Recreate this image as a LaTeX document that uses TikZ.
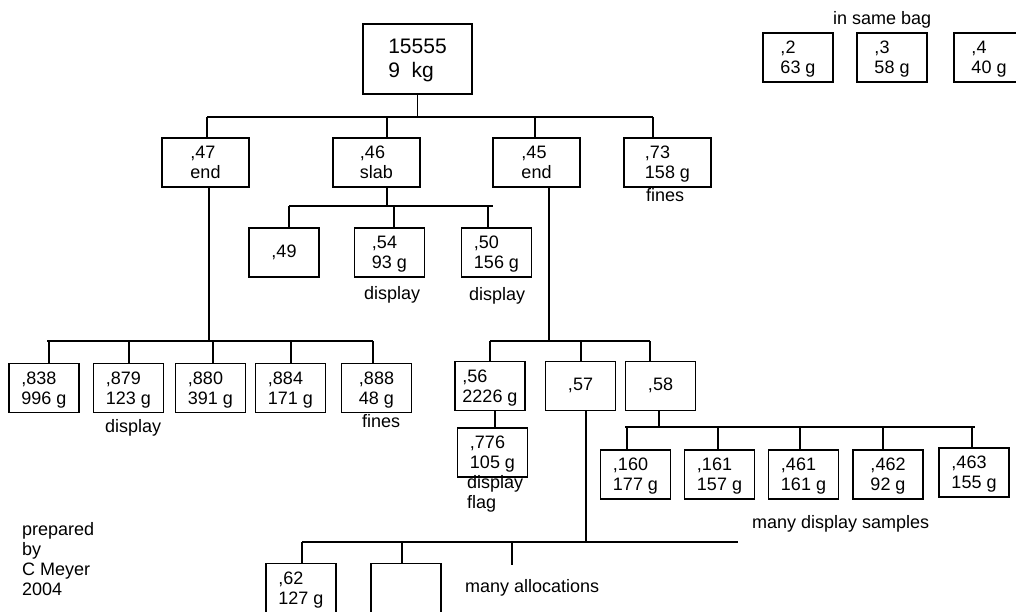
\documentclass[tikz,border=0pt]{standalone}
\usepackage{fontspec}
\setmainfont{Liberation Sans}
\usetikzlibrary{positioning}

\begin{document}
\begin{tikzpicture}[x=1pt,y=-1pt,
  box/.style={draw,line width=1.1pt,minimum width=70pt,minimum height=49pt,align=left,inner sep=1pt,text depth=-5pt,font=\fontsize{18}{20}\selectfont},
  single/.style={box,text depth=3pt},
  wide/.style={box,minimum width=87pt},
  note/.style={anchor=base west,inner sep=0pt,align=left,font=\fontsize{18}{20}\selectfont},
  wire/.style={line width=1.1pt}
]
\useasboundingbox (0,0) rectangle (1016,612);
% top of the tree
\node[box,minimum width=109pt,minimum height=70pt,text depth=1pt,font=\fontsize{21}{24}\selectfont] (root) at (417.5,59) {15555\\9\ \ kg};
\node[wide] (b47) at (205.5,162.5) {,47\\end};
\node[wide] (b46) at (376.5,162.5) {,46\\slab};
\node[wide] (b45) at (536.5,162.5) {,45\\end};
\node[wide] (b73) at (667.5,162.5) {,73\\158 g};
\node[note] (f73) at (646,202) {fines};
% pieces of ,46
\node[single] (b49) at (284,252.5) {,49};
\node[box] (b54) at (389.5,252.5) {,54\\93 g};
\node[box] (b50) at (496.5,252.5) {,50\\156 g};
\node[note] (d54) at (364,299) {display};
\node[note] (d50) at (469,300) {display};
% pieces of ,47
\node[box] (b838) at (44,388) {,838\\996 g};
\node[box] (b879) at (128.5,388) {,879\\123 g};
\node[box] (b880) at (210.5,388) {,880\\391 g};
\node[box] (b884) at (290.5,388) {,884\\171 g};
\node[box] (b888) at (376.5,388) {,888\\48 g};
\node[note] (d879) at (105,432) {display};
\node[note] (f888) at (362,427) {fines};
% pieces of ,45
\node[box] (b56) at (490,386) {,56\\2226 g};
\node[single] (b57) at (580.5,386) {,57};
\node[single] (b58) at (660.5,386) {,58};
\node[box] (b776) at (492.5,452.5) {,776\\105 g};
\node[note] (d776) at (467,508) {display\\flag};
% pieces of ,58
\node[box] (b160) at (635.5,474.5) {,160\\177 g};
\node[box] (b161) at (719.5,474.5) {,161\\157 g};
\node[box] (b461) at (803.5,474.5) {,461\\161 g};
\node[box] (b462) at (888,474.5) {,462\\92 g};
\node[box] (b463) at (974,472.5) {,463\\155 g};
\node[note] (samples) at (752,528) {many display samples};
% pieces of ,57
\node[box] (b62) at (301,588) {,62\\127 g};
\node[box] (bnone) at (406,588) {};
\node[note] (alloc) at (465,592) {many allocations};
% same bag
\node[note] (bag) at (833,25) {in same bag};
\node[box] (b2) at (798,57.5) {,2\\63 g};
\node[box] (b3) at (892,57.5) {,3\\58 g};
\node[box] (b4) at (989,57.5) {,4\\40 g};
\node[note] (author) at (22,595) {prepared\\by\\C Meyer\\2004};

% junctions on the bars
\coordinate (r1) at (207,117); \coordinate (r2) at (387,117);
\coordinate (r3) at (535,117); \coordinate (r4) at (653,117);
\coordinate (s1) at (289,206); \coordinate (s2) at (394,206);
\coordinate (s3) at (488,206); \coordinate (s4) at (493,206);
\coordinate (p0) at (209,341); \coordinate (p1) at (47,341);
\coordinate (q0) at (549,341); \coordinate (q1) at (490,341);
\coordinate (q2) at (581,341); \coordinate (q3) at (650,341);
\coordinate (m0) at (495,410);
\coordinate (u0) at (659,427); \coordinate (u1) at (625,427); \coordinate (u2) at (975,427);
\coordinate (v0) at (586,542); \coordinate (v1) at (302,542);
\coordinate (v2) at (402,542); \coordinate (v3) at (512,542); \coordinate (v4) at (738,542);
\coordinate (vend) at (512,565);

\draw[wire] (root) -- (root |- r1);
\draw[wire] (r1) -- (r4);
\foreach \c/\n in {r1/b47,r2/b46,r3/b45,r4/b73}
  \draw[wire] (\c) -- (\c |- \n.north);

\draw[wire] (r2 |- b46.south) -- (r2 |- s1);
\draw[wire] (s1) -- (s4);
\foreach \c/\n in {s1/b49,s2/b54,s3/b50}
  \draw[wire] (\c) -- (\c |- \n.north);

\draw[wire] (p0 |- b47.south) -- (p0);
\draw[wire] (p1) -- (373,341);
\foreach \x/\n in {49/b838,129/b879,213/b880,291/b884,373/b888}
  \draw[wire] (\x,341) -- (\x,341 |- \n.north);

\draw[wire] (q0 |- b45.south) -- (q0);
\draw[wire] (q1) -- (q3);
\foreach \c/\n in {q1/b56,q2/b57,q3/b58}
  \draw[wire] (\c) -- (\c |- \n.north);
\draw[wire] (m0 |- b56.south) -- (m0 |- b776.north);

\draw[wire] (u0 |- b58.south) -- (u0);
\draw[wire] (u1) -- (u2);
\foreach \x/\n in {627/b160,718/b161,800/b461,883/b462,972/b463}
  \draw[wire] (\x,427) -- (\x,427 |- \n.north);

\draw[wire] (v0 |- b57.south) -- (v0);
\draw[wire] (v1) -- (v4);
\foreach \c/\n in {v1/b62,v2/bnone}
  \draw[wire] (\c) -- (\c |- \n.north);
\draw[wire] (v3) -- (vend);
\end{tikzpicture}
\end{document}
